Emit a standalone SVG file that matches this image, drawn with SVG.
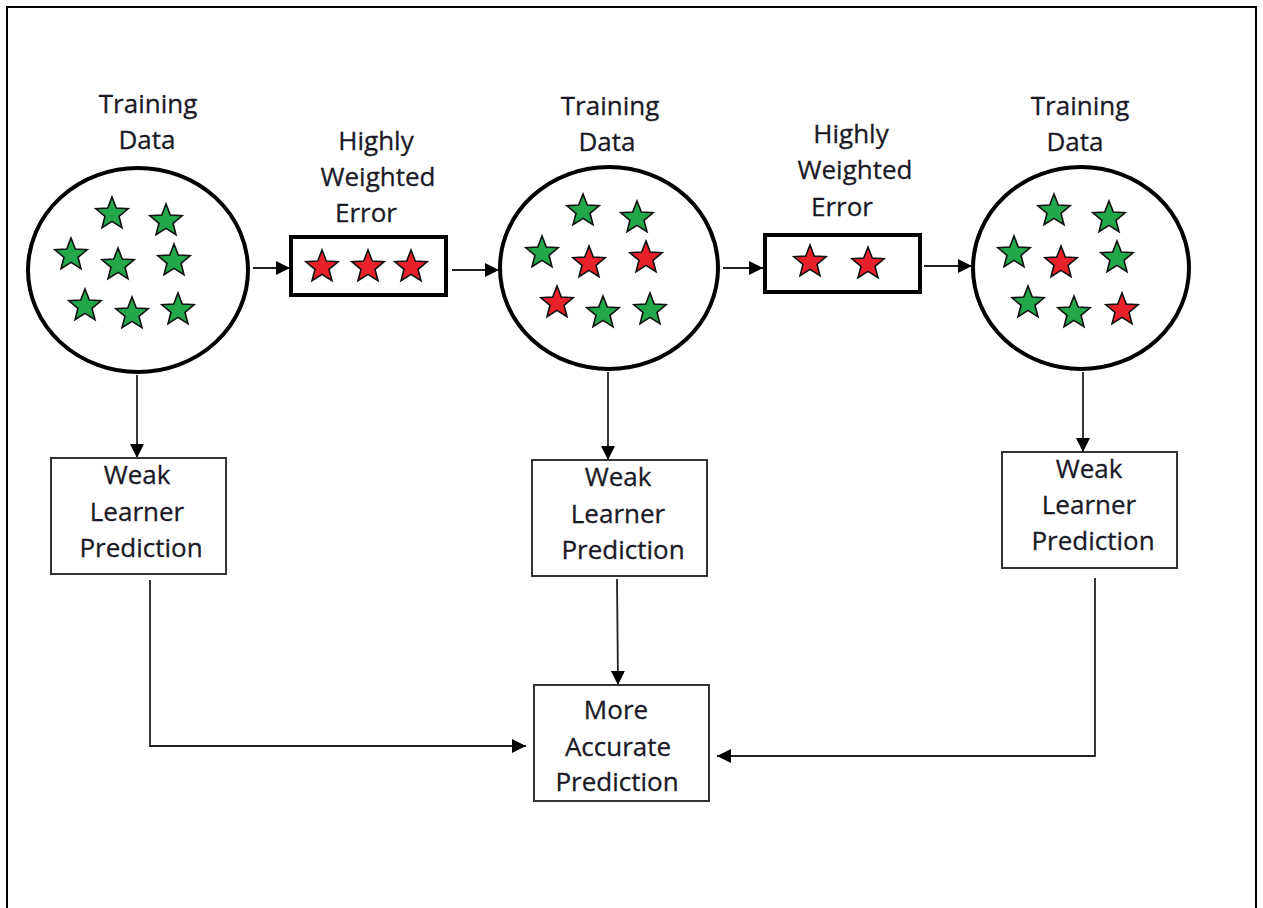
<svg xmlns="http://www.w3.org/2000/svg" width="1263" height="908" viewBox="0 0 1263 908">
<style>
.lbl{font-family:"Open Sans","Liberation Sans",sans-serif;font-size:26px;fill:#1a1a26;text-anchor:middle;stroke:#1a1a26;stroke-width:0.3}
.circ{fill:#fff;stroke:#000;stroke-width:4}
.ebox{fill:#fff;stroke:#000;stroke-width:4}
.wbox{fill:#fff;stroke:#333;stroke-width:2}
.g{fill:#22a84a}
.r{fill:#e8202a}
.conn{fill:none;stroke:#222;stroke-width:1.8}
</style>
<defs>
<path id="star" d="M0,-17 L4.3,-5.9 L16.17,-5.25 L7,2.3 L9.99,13.75 L0,7.4 L-9.99,13.75 L-7,2.3 L-16.17,-5.25 L-4.3,-5.9 Z" stroke="#111" stroke-width="1.6" stroke-linejoin="miter"/>
<marker id="ah" viewBox="0 0 14 14" refX="14" refY="7" markerWidth="14" markerHeight="14" markerUnits="userSpaceOnUse" orient="auto">
<path d="M0,0 L14,7 L0,14 Z" fill="#000"/>
</marker>
</defs>
<rect width="1263" height="908" fill="#fff"/>
<path d="M7,915 V7 H1256 V915" fill="none" stroke="#000" stroke-width="2"/>

<g id="connectors">
<line class="conn" x1="253" y1="268" x2="290" y2="268" marker-end="url(#ah)"/>
<line class="conn" x1="452" y1="270" x2="499" y2="270" marker-end="url(#ah)"/>
<line class="conn" x1="723" y1="268" x2="763" y2="268" marker-end="url(#ah)"/>
<line class="conn" x1="924" y1="266" x2="972" y2="266" marker-end="url(#ah)"/>
<line class="conn" x1="137" y1="375" x2="137" y2="458" marker-end="url(#ah)"/>
<line class="conn" x1="608" y1="372" x2="608" y2="460" marker-end="url(#ah)"/>
<line class="conn" x1="1083" y1="372" x2="1083" y2="452" marker-end="url(#ah)"/>
<line class="conn" x1="617" y1="579" x2="618" y2="685" marker-end="url(#ah)"/>
<polyline class="conn" points="150,580 150,746 526,746" marker-end="url(#ah)"/>
<polyline class="conn" points="1095,578 1095,756 717,756" marker-end="url(#ah)"/>
</g>

<g id="training1">
<text class="lbl" x="148" y="113">Training</text>
<text class="lbl" x="147" y="149">Data</text>
<ellipse class="circ" cx="138" cy="270" rx="110" ry="102"/>
<use href="#star" class="g" x="112" y="214"/>
<use href="#star" class="g" x="166" y="221"/>
<use href="#star" class="g" x="71" y="255"/>
<use href="#star" class="g" x="118" y="265"/>
<use href="#star" class="g" x="174" y="261"/>
<use href="#star" class="g" x="85" y="306"/>
<use href="#star" class="g" x="132" y="314"/>
<use href="#star" class="g" x="178" y="310"/>
</g>

<g id="error1">
<text class="lbl" x="376" y="150">Highly</text>
<text class="lbl" x="378" y="186">Weighted</text>
<text class="lbl" x="366" y="222">Error</text>
<rect class="ebox" x="291" y="237" width="155" height="58"/>
<use href="#star" class="r" x="322" y="267"/>
<use href="#star" class="r" x="368" y="267"/>
<use href="#star" class="r" x="411" y="267"/>
</g>

<g id="training2">
<text class="lbl" x="610" y="115">Training</text>
<text class="lbl" x="607" y="151">Data</text>
<ellipse class="circ" cx="609" cy="268" rx="109" ry="101"/>
<use href="#star" class="g" x="583" y="211"/>
<use href="#star" class="g" x="637" y="218"/>
<use href="#star" class="g" x="542" y="253"/>
<use href="#star" class="r" x="589" y="263"/>
<use href="#star" class="r" x="646" y="258"/>
<use href="#star" class="r" x="557" y="303"/>
<use href="#star" class="g" x="603" y="313"/>
<use href="#star" class="g" x="650" y="310"/>
</g>

<g id="error2">
<text class="lbl" x="851" y="143">Highly</text>
<text class="lbl" x="855" y="179">Weighted</text>
<text class="lbl" x="842" y="216">Error</text>
<rect class="ebox" x="765" y="235" width="155" height="57"/>
<use href="#star" class="r" x="810" y="262"/>
<use href="#star" class="r" x="868" y="264"/>
</g>

<g id="training3">
<text class="lbl" x="1080" y="115">Training</text>
<text class="lbl" x="1075" y="151">Data</text>
<ellipse class="circ" cx="1081" cy="268" rx="108" ry="101"/>
<use href="#star" class="g" x="1054" y="211"/>
<use href="#star" class="g" x="1109" y="218"/>
<use href="#star" class="g" x="1014" y="253"/>
<use href="#star" class="r" x="1061" y="263"/>
<use href="#star" class="g" x="1117" y="258"/>
<use href="#star" class="g" x="1028" y="303"/>
<use href="#star" class="g" x="1074" y="313"/>
<use href="#star" class="r" x="1122" y="310"/>
</g>

<g id="weak1">
<rect class="wbox" x="51" y="458" width="175" height="116"/>
<text class="lbl" x="137" y="484">Weak</text>
<text class="lbl" x="137" y="521">Learner</text>
<text class="lbl" x="141" y="557">Prediction</text>
</g>

<g id="weak2">
<rect class="wbox" x="532" y="460" width="175" height="116"/>
<text class="lbl" x="618" y="486">Weak</text>
<text class="lbl" x="618" y="523">Learner</text>
<text class="lbl" x="623" y="559">Prediction</text>
</g>

<g id="weak3">
<rect class="wbox" x="1002" y="452" width="175" height="116"/>
<text class="lbl" x="1089" y="478">Weak</text>
<text class="lbl" x="1089" y="514">Learner</text>
<text class="lbl" x="1093" y="550">Prediction</text>
</g>

<g id="accurate">
<rect class="wbox" x="534" y="685" width="175" height="116"/>
<text class="lbl" x="616" y="719">More</text>
<text class="lbl" x="618" y="756">Accurate</text>
<text class="lbl" x="617" y="791">Prediction</text>
</g>
</svg>
